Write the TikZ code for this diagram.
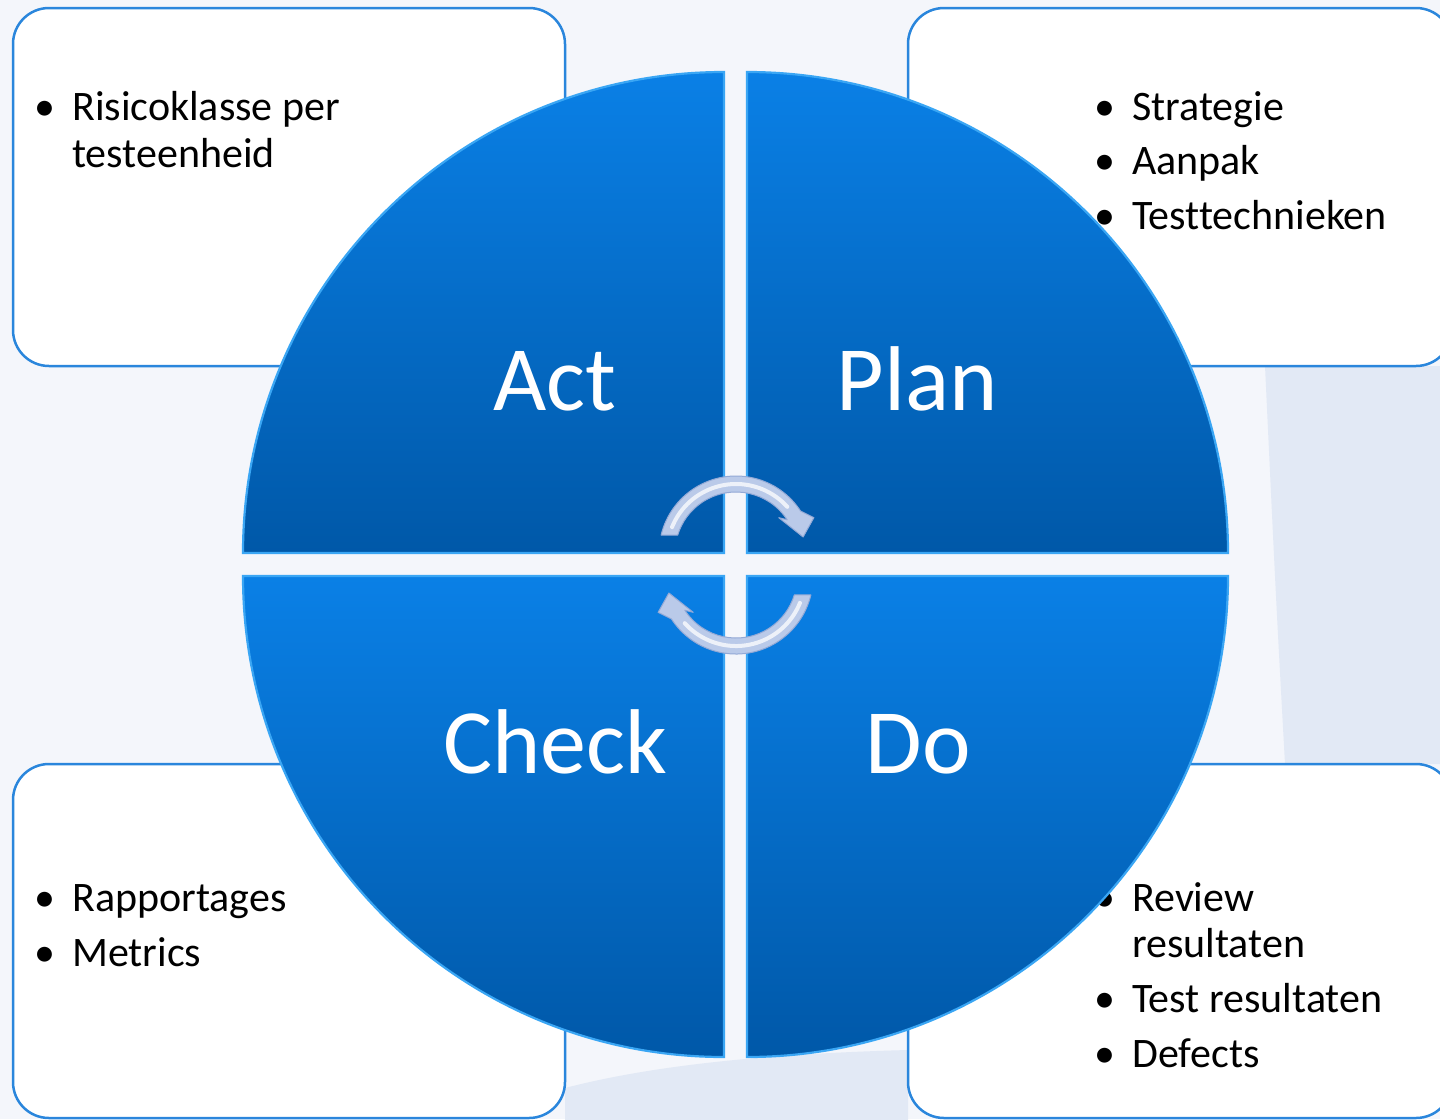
\documentclass[tikz,border=0pt]{standalone}
\usepackage{fontspec}
\setmainfont{Carlito}[Ligatures={NoCommon}]
\definecolor{bg}{HTML}{F4F6FB}
\definecolor{bgpanel}{HTML}{E2E9F5}
\definecolor{boxblue}{HTML}{2A86DC}
\definecolor{qtop}{HTML}{0A80E6}
\definecolor{qbot}{HTML}{0058A8}
\definecolor{qedge}{HTML}{3AA6F4}
\definecolor{arrfill}{HTML}{BACAE9}
\definecolor{arredge}{HTML}{93A9D6}
\tikzset{
  boxst/.style={draw=boxblue, line width=2.5pt, fill=white, rounded corners=36pt},
  quad/.style={top color=qtop, bottom color=qbot, draw=qedge, line width=2.2pt},
  qlabel/.style={text=white, font=\fontsize{92}{110}\selectfont, anchor=base, inner sep=0pt},
  btxt/.style={font=\fontsize{42}{50}\selectfont, anchor=base west, inner sep=0pt},
  bdot/.style={font=\fontsize{42}{50}\selectfont, anchor=base, inner sep=0pt},
  arrst/.style={fill=arrfill, draw=arredge, line width=1pt, line join=round},
  arrhl/.style={draw=white, line width=4pt, opacity=0.75, line cap=round},
}
\begin{document}
\begin{tikzpicture}[x=1pt,y=-1pt]
\useasboundingbox (0,0) rectangle (1440,1119);
\begin{scope}
\clip (0,0) rectangle (1440,1119);
% background
\fill[bg] (0,0) rectangle (1440,1119);
\fill[bgpanel] (1265,366) -- (1445,366) -- (1445,764) -- (1285,764) .. controls (1276,600) .. (1265,366) -- cycle;
\fill[bgpanel] (565,1122) -- (565,1088) .. controls (650,1066) and (760,1054) .. (908,1050) -- (908,1122) -- cycle;
% corner boxes
\draw[boxst] (13,8) rectangle (565,366);
\draw[boxst] (908,8) rectangle (1452,366);
\draw[boxst] (13,764) rectangle (565,1118);
\draw[boxst] (908,764) rectangle (1452,1118);
% box texts
\node[bdot] (tlb1) at (45,120) {•};
\node[btxt] (tl1) at (72,120) {Risicoklasse per};
\node[btxt] (tl2) at (72,167) {testeenheid};
\node[bdot] (trb1) at (1105,120) {•};
\node[btxt] (tr1) at (1132,120) {Strategie};
\node[bdot] (trb2) at (1105,174) {•};
\node[btxt] (tr2) at (1132,174) {Aanpak};
\node[bdot] (trb3) at (1105,229) {•};
\node[btxt] (tr3) at (1132,229) {Testtechnieken};
\node[bdot] (blb1) at (45,911) {•};
\node[btxt] (bl1) at (72,911) {Rapportages};
\node[bdot] (blb2) at (45,966) {•};
\node[btxt] (bl2) at (72,966) {Metrics};
\node[bdot] (brb1) at (1105,911) {•};
\node[btxt] (br1) at (1132,911) {Review};
\node[btxt] (br2) at (1132,957) {resultaten};
\node[bdot] (brb2) at (1105,1012) {•};
\node[btxt] (br3) at (1132,1012) {Test resultaten};
\node[bdot] (brb3) at (1105,1067) {•};
\node[btxt] (br4) at (1132,1067) {Defects};
% quadrants
\draw[quad] (724,553) -- (243,553) arc[start angle=180, end angle=270, radius=481] -- cycle;
\draw[quad] (747,553) -- (747,72) arc[start angle=270, end angle=360, radius=481] -- cycle;
\draw[quad] (747,576) -- (1228,576) arc[start angle=0, end angle=90, radius=481] -- cycle;
\draw[quad] (724,576) -- (724,1057) arc[start angle=90, end angle=180, radius=481] -- cycle;
% quadrant labels
\node[qlabel] (act) at (555,410) {Act};
\node[qlabel] (plan) at (917,410) {Plan};
\node[qlabel] (check) at (555,773) {Check};
\node[qlabel] (do) at (918,773) {Do};
% cycle arrows
\begin{scope}[shift={(736,553)}]
\path[arrst] (-166.5:77) arc[start angle=-166.5, end angle=-33, radius=77]
  -- (-24.4:85.5) -- (-13.4:69) -- (-39.5:55.5) -- (-33:61)
  arc[start angle=-33, end angle=-163, radius=61] -- cycle;
\draw[arrhl] (-158:69) arc[start angle=-158, end angle=-42, radius=69];
\end{scope}
\begin{scope}[shift={(736,577)}]
\path[arrst] (13.5:77) arc[start angle=13.5, end angle=147, radius=77]
  -- (155.6:85.5) -- (166.6:69) -- (140.5:55.5) -- (147:61)
  arc[start angle=147, end angle=17, radius=61] -- cycle;
\draw[arrhl] (22:69) arc[start angle=22, end angle=138, radius=69];
\end{scope}
\end{scope}
\end{tikzpicture}
\end{document}
